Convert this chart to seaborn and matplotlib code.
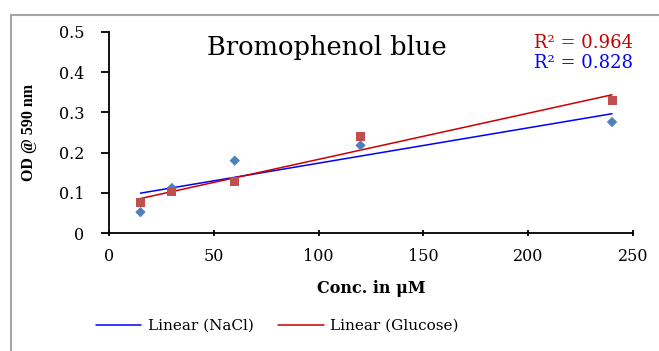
import matplotlib
matplotlib.use("Agg")
import matplotlib.pyplot as plt
from matplotlib.patches import Rectangle
import seaborn as sns
import pandas as pd

# ---- data ----
conc = [15, 30, 60, 120, 240]
od_nacl = [0.052, 0.112, 0.180, 0.218, 0.276]
od_glucose = [0.075, 0.104, 0.127, 0.240, 0.330]
x_ticks = [0, 50, 100, 150, 200, 250]
x_tick_labels = ["0", "50", "100", "150", "200", "250"]
y_ticks = [0, 0.1, 0.2, 0.3, 0.4, 0.5]
y_tick_labels = ["0", "0.1", "0.2", "0.3", "0.4", "0.5"]
title = "Bromophenol blue"
r2_glucose = "R² = 0.964"
r2_nacl = "R² = 0.828"
series_names = ["Linear (NaCl)", "Linear (Glucose)"]

df_nacl = pd.DataFrame({"conc": conc, "od": od_nacl})
df_glu = pd.DataFrame({"conc": conc, "od": od_glucose})

sns.set_style("ticks")
plt.rcParams["font.family"] = ["DejaVu Serif"]
plt.rcParams["text.color"] = "black"
plt.rcParams["axes.labelcolor"] = "black"

fig = plt.figure(figsize=(6.59, 3.51), dpi=100)
ax = fig.add_axes([109/659, 1 - 233/351, 524/659, 201/351])

# markers
sns.scatterplot(data=df_nacl, x="conc", y="od", marker="D", s=28, color="#4F81BD",
                edgecolor="none", ax=ax, legend=False, zorder=3)
sns.scatterplot(data=df_glu, x="conc", y="od", marker="s", s=42, color="#C0504D",
                edgecolor="none", ax=ax, legend=False, zorder=3)

# linear trendlines
sns.regplot(data=df_nacl, x="conc", y="od", scatter=False, ci=None, ax=ax,
            label=series_names[0], line_kws={"color": "#0000FF", "lw": 1.1})
sns.regplot(data=df_glu, x="conc", y="od", scatter=False, ci=None, ax=ax,
            label=series_names[1], line_kws={"color": "#CC0000", "lw": 1.1})

ax.set_xlim(0, 250)
ax.set_ylim(0, 0.5)
ax.set_xticks(x_ticks)
ax.set_xticklabels(x_tick_labels)
ax.set_yticks(y_ticks)
ax.set_yticklabels(y_tick_labels)
sns.despine(ax=ax)
for sp in ["left", "bottom"]:
    ax.spines[sp].set_linewidth(1.3)
    ax.spines[sp].set_color("black")
ax.tick_params(axis="x", direction="inout", length=5, width=1.3, pad=8,
               labelsize=11.5, colors="black")
ax.tick_params(axis="y", direction="out", length=6, width=1.3, pad=12,
               labelsize=11.5, colors="black")

ax.set_xlabel("Conc. in μM", fontsize=11.5, fontweight="bold", color="black")
ax.xaxis.set_label_coords(0.5, -0.235)
ax.set_ylabel("OD @ 590 nm", fontsize=11.5, fontweight="bold",
              family=["Liberation Serif"], color="black")
ax.yaxis.set_label_coords(-0.137, 0.5)

ax.text(0.416, 0.925, title, transform=ax.transAxes, ha="center", va="center",
        fontsize=18.5, color="black")
ax.text(1.0, 0.945, r2_glucose, transform=ax.transAxes, ha="right", va="center",
        fontsize=13, color="#C00000")
ax.text(1.0, 0.845, r2_nacl, transform=ax.transAxes, ha="right", va="center",
        fontsize=13, color="#0000FF")

leg = ax.legend(loc="center", bbox_to_anchor=(277/659, 1 - 326/351),
                bbox_transform=fig.transFigure, ncol=2, frameon=False, fontsize=11,
                handlelength=3.0, handletextpad=0.4, columnspacing=1.6)
for t in leg.get_texts():
    t.set_color("black")

# outer chart border
fig.patches.append(Rectangle((11/659, -0.1), 1.2, 1 - 15/351 + 0.1,
                             transform=fig.transFigure, fill=False,
                             edgecolor="#A6A6A6", lw=1.5))

fig.savefig("out.png", dpi=100, facecolor="white")
